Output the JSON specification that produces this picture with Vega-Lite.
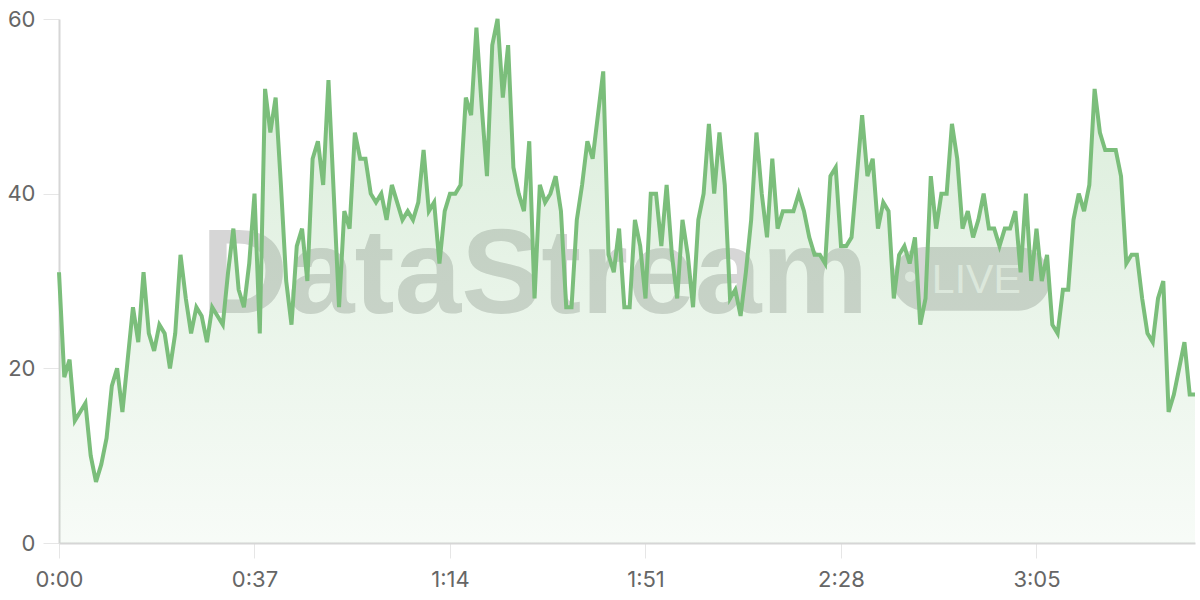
{
  "$schema": "https://vega.github.io/schema/vega-lite/v6.json",
  "width": 1136,
  "height": 524,
  "autosize": {"type": "none"},
  "padding": {"left": 59, "top": 19, "right": 5, "bottom": 57},
  "background": "white",
  "config": {
    "view": {"stroke": null},
    "font": "Inter",
    "axis": {
      "labelFontSize": 22,
      "labelColor": "#666666",
      "tickColor": "#e6e6e6",
      "gridColor": "#ebebeb",
      "domainColor": "#d6d6d6",
      "domainWidth": 2
    },
    "axisX": {"labelFlush": false, "labelOverlap": false, "labelPadding": 11, "tickSize": 15},
    "axisY": {"labelPadding": 8, "tickSize": 16}
  },
  "data": {
    "values": [
      {"second": 0, "value": 31}, {"second": 1, "value": 19}, {"second": 2, "value": 21}, {"second": 3, "value": 14},
      {"second": 4, "value": 15}, {"second": 5, "value": 16}, {"second": 6, "value": 10}, {"second": 7, "value": 7},
      {"second": 8, "value": 9}, {"second": 9, "value": 12}, {"second": 10, "value": 18}, {"second": 11, "value": 20},
      {"second": 12, "value": 15}, {"second": 13, "value": 21}, {"second": 14, "value": 27}, {"second": 15, "value": 23},
      {"second": 16, "value": 31}, {"second": 17, "value": 24}, {"second": 18, "value": 22}, {"second": 19, "value": 25},
      {"second": 20, "value": 24}, {"second": 21, "value": 20}, {"second": 22, "value": 24}, {"second": 23, "value": 33},
      {"second": 24, "value": 28}, {"second": 25, "value": 24}, {"second": 26, "value": 27}, {"second": 27, "value": 26},
      {"second": 28, "value": 23}, {"second": 29, "value": 27}, {"second": 30, "value": 26}, {"second": 31, "value": 25},
      {"second": 32, "value": 31}, {"second": 33, "value": 36}, {"second": 34, "value": 29}, {"second": 35, "value": 27},
      {"second": 36, "value": 32}, {"second": 37, "value": 40}, {"second": 38, "value": 24}, {"second": 39, "value": 52},
      {"second": 40, "value": 47}, {"second": 41, "value": 51}, {"second": 42, "value": 41}, {"second": 43, "value": 30},
      {"second": 44, "value": 25}, {"second": 45, "value": 34}, {"second": 46, "value": 36}, {"second": 47, "value": 30},
      {"second": 48, "value": 44}, {"second": 49, "value": 46}, {"second": 50, "value": 41}, {"second": 51, "value": 53},
      {"second": 52, "value": 40}, {"second": 53, "value": 27}, {"second": 54, "value": 38}, {"second": 55, "value": 36},
      {"second": 56, "value": 47}, {"second": 57, "value": 44}, {"second": 58, "value": 44}, {"second": 59, "value": 40},
      {"second": 60, "value": 39}, {"second": 61, "value": 40}, {"second": 62, "value": 37}, {"second": 63, "value": 41},
      {"second": 64, "value": 39}, {"second": 65, "value": 37}, {"second": 66, "value": 38}, {"second": 67, "value": 37},
      {"second": 68, "value": 39}, {"second": 69, "value": 45}, {"second": 70, "value": 38}, {"second": 71, "value": 39},
      {"second": 72, "value": 32}, {"second": 73, "value": 38}, {"second": 74, "value": 40}, {"second": 75, "value": 40},
      {"second": 76, "value": 41}, {"second": 77, "value": 51}, {"second": 78, "value": 49}, {"second": 79, "value": 59},
      {"second": 80, "value": 50}, {"second": 81, "value": 42}, {"second": 82, "value": 57}, {"second": 83, "value": 60},
      {"second": 84, "value": 51}, {"second": 85, "value": 57}, {"second": 86, "value": 43}, {"second": 87, "value": 40},
      {"second": 88, "value": 38}, {"second": 89, "value": 46}, {"second": 90, "value": 28}, {"second": 91, "value": 41},
      {"second": 92, "value": 39}, {"second": 93, "value": 40}, {"second": 94, "value": 42}, {"second": 95, "value": 38},
      {"second": 96, "value": 27}, {"second": 97, "value": 27}, {"second": 98, "value": 37}, {"second": 99, "value": 41},
      {"second": 100, "value": 46}, {"second": 101, "value": 44}, {"second": 102, "value": 49}, {"second": 103, "value": 54},
      {"second": 104, "value": 33}, {"second": 105, "value": 31}, {"second": 106, "value": 36}, {"second": 107, "value": 27},
      {"second": 108, "value": 27}, {"second": 109, "value": 37}, {"second": 110, "value": 34}, {"second": 111, "value": 28},
      {"second": 112, "value": 40}, {"second": 113, "value": 40}, {"second": 114, "value": 34}, {"second": 115, "value": 41},
      {"second": 116, "value": 33}, {"second": 117, "value": 28}, {"second": 118, "value": 37}, {"second": 119, "value": 33},
      {"second": 120, "value": 27}, {"second": 121, "value": 37}, {"second": 122, "value": 40}, {"second": 123, "value": 48},
      {"second": 124, "value": 40}, {"second": 125, "value": 47}, {"second": 126, "value": 41}, {"second": 127, "value": 28},
      {"second": 128, "value": 29}, {"second": 129, "value": 26}, {"second": 130, "value": 31}, {"second": 131, "value": 37},
      {"second": 132, "value": 47}, {"second": 133, "value": 40}, {"second": 134, "value": 35}, {"second": 135, "value": 44},
      {"second": 136, "value": 36}, {"second": 137, "value": 38}, {"second": 138, "value": 38}, {"second": 139, "value": 38},
      {"second": 140, "value": 40}, {"second": 141, "value": 38}, {"second": 142, "value": 35}, {"second": 143, "value": 33},
      {"second": 144, "value": 33}, {"second": 145, "value": 32}, {"second": 146, "value": 42}, {"second": 147, "value": 43},
      {"second": 148, "value": 34}, {"second": 149, "value": 34}, {"second": 150, "value": 35}, {"second": 151, "value": 42},
      {"second": 152, "value": 49}, {"second": 153, "value": 42}, {"second": 154, "value": 44}, {"second": 155, "value": 36},
      {"second": 156, "value": 39}, {"second": 157, "value": 38}, {"second": 158, "value": 28}, {"second": 159, "value": 33},
      {"second": 160, "value": 34}, {"second": 161, "value": 32}, {"second": 162, "value": 35}, {"second": 163, "value": 25},
      {"second": 164, "value": 28}, {"second": 165, "value": 42}, {"second": 166, "value": 36}, {"second": 167, "value": 40},
      {"second": 168, "value": 40}, {"second": 169, "value": 48}, {"second": 170, "value": 44}, {"second": 171, "value": 36},
      {"second": 172, "value": 38}, {"second": 173, "value": 35}, {"second": 174, "value": 37}, {"second": 175, "value": 40},
      {"second": 176, "value": 36}, {"second": 177, "value": 36}, {"second": 178, "value": 34}, {"second": 179, "value": 36},
      {"second": 180, "value": 36}, {"second": 181, "value": 38}, {"second": 182, "value": 31}, {"second": 183, "value": 40},
      {"second": 184, "value": 30}, {"second": 185, "value": 36}, {"second": 186, "value": 30}, {"second": 187, "value": 33},
      {"second": 188, "value": 25}, {"second": 189, "value": 24}, {"second": 190, "value": 29}, {"second": 191, "value": 29},
      {"second": 192, "value": 37}, {"second": 193, "value": 40}, {"second": 194, "value": 38}, {"second": 195, "value": 41},
      {"second": 196, "value": 52}, {"second": 197, "value": 47}, {"second": 198, "value": 45}, {"second": 199, "value": 45},
      {"second": 200, "value": 45}, {"second": 201, "value": 42}, {"second": 202, "value": 32}, {"second": 203, "value": 33},
      {"second": 204, "value": 33}, {"second": 205, "value": 28}, {"second": 206, "value": 24}, {"second": 207, "value": 23},
      {"second": 208, "value": 28}, {"second": 209, "value": 30}, {"second": 210, "value": 15}, {"second": 211, "value": 17},
      {"second": 212, "value": 20}, {"second": 213, "value": 23}, {"second": 214, "value": 17}, {"second": 215, "value": 17}
    ]
  },
  "layer": [
    {
      "data": {"values": [{"label": "DataStream"}]},
      "mark": {"type": "text", "font": "Liberation Sans", "fontWeight": "bold", "fontSize": 120, "align": "left", "baseline": "alphabetic", "color": "#d6d6d6"},
      "encoding": {
        "x": {"datum": 26.9, "type": "quantitative", "scale": {"domain": [0, 215], "nice": false, "zero": false},
              "axis": {"title": null, "values": [0, 37, 74, 111, 148, 185], "labelExpr": "floor(datum.value / 60) + ':' + (datum.value % 60 < 10 ? '0' : '') + (datum.value % 60)"}},
        "y": {"datum": 26.3, "type": "quantitative", "scale": {"domain": [0, 60], "nice": false},
              "axis": {"title": null, "values": [0, 20, 40, 60]}},
        "text": {"field": "label"}
      }
    },
    {
      "data": {"values": [{"label": "LIVE"}]},
      "mark": {"type": "rect", "cornerRadius": 32, "color": "#d6d6d6"},
      "encoding": {
        "x": {"datum": 157.8, "type": "quantitative",
              "axis": {"title": null, "values": [0, 37, 74, 111, 148, 185], "labelExpr": "floor(datum.value / 60) + ':' + (datum.value % 60 < 10 ? '0' : '') + (datum.value % 60)"}},
        "x2": {"datum": 187.6},
        "y": {"datum": 33.9, "type": "quantitative", "axis": {"title": null, "values": [0, 20, 40, 60]}},
        "y2": {"datum": 26.6}
      }
    },
    {
      "data": {"values": [{"label": "LIVE"}]},
      "mark": {"type": "circle", "size": 110, "color": "#ffffff", "opacity": 0.65},
      "encoding": {
        "x": {"datum": 161.1, "type": "quantitative",
              "axis": {"title": null, "values": [0, 37, 74, 111, 148, 185], "labelExpr": "floor(datum.value / 60) + ':' + (datum.value % 60 < 10 ? '0' : '') + (datum.value % 60)"}},
        "y": {"datum": 30.5, "type": "quantitative", "axis": {"title": null, "values": [0, 20, 40, 60]}}
      }
    },
    {
      "data": {"values": [{"label": "LIVE"}]},
      "mark": {"type": "text", "font": "Liberation Sans", "fontSize": 41, "align": "left", "baseline": "alphabetic", "color": "#ffffff", "opacity": 0.65},
      "encoding": {
        "x": {"datum": 165.2, "type": "quantitative",
              "axis": {"title": null, "values": [0, 37, 74, 111, 148, 185], "labelExpr": "floor(datum.value / 60) + ':' + (datum.value % 60 < 10 ? '0' : '') + (datum.value % 60)"}},
        "y": {"datum": 28.6, "type": "quantitative", "axis": {"title": null, "values": [0, 20, 40, 60]}},
        "text": {"field": "label"}
      }
    },
    {
      "mark": {
        "type": "area",
        "color": {
          "gradient": "linear",
          "x1": 0, "y1": 0, "x2": 0, "y2": 1,
          "stops": [
            {"offset": 0, "color": "rgba(124, 191, 124, 0.30)"},
            {"offset": 1, "color": "rgba(124, 191, 124, 0.06)"}
          ]
        }
      },
      "encoding": {
        "x": {"field": "second", "type": "quantitative",
              "axis": {"title": null, "values": [0, 37, 74, 111, 148, 185], "labelExpr": "floor(datum.value / 60) + ':' + (datum.value % 60 < 10 ? '0' : '') + (datum.value % 60)"}},
        "y": {"field": "value", "type": "quantitative", "axis": {"title": null, "values": [0, 20, 40, 60]}}
      }
    },
    {
      "mark": {"type": "line", "color": "#7bbe7b", "strokeWidth": 4},
      "encoding": {
        "x": {"field": "second", "type": "quantitative",
              "axis": {"title": null, "values": [0, 37, 74, 111, 148, 185], "labelExpr": "floor(datum.value / 60) + ':' + (datum.value % 60 < 10 ? '0' : '') + (datum.value % 60)"}},
        "y": {"field": "value", "type": "quantitative", "axis": {"title": null, "values": [0, 20, 40, 60]}}
      }
    }
  ]
}
